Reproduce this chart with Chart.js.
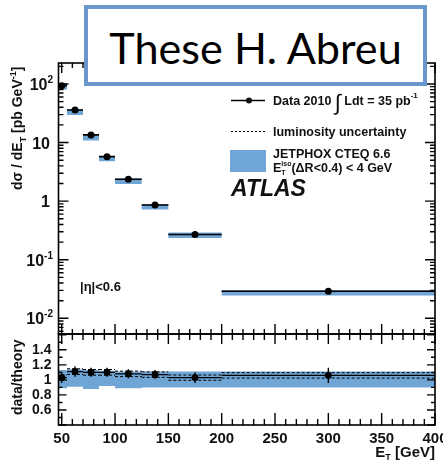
<!DOCTYPE html>
<html>
<head>
<meta charset="utf-8">
<script src="https://cdn.jsdelivr.net/npm/chart.js@4.4.1/dist/chart.umd.min.js"></script>
<style>
  html, body { margin: 0; padding: 0; background: #fff; }
  #page { position: relative; width: 443px; height: 466px; overflow: hidden; }
  #spectrum { position: absolute; left: 0; top: 0; }
  #ratio { position: absolute; left: 0; top: 330px; }
  #banner {
    position: absolute; left: 84px; top: 5px; width: 335px; height: 73px;
    border: 4px solid #6a97cb; background: #fff;
    font-family: Lato, "Open Sans", sans-serif; color: #000;
  }
  #banner span { position: absolute; left: 0; right: 0; top: 17px; text-align: center; white-space: nowrap; line-height: 1; }
</style>
</head>
<body>
<div id="page">
  <canvas id="spectrum" width="443" height="345"></canvas>
  <canvas id="ratio" width="443" height="136"></canvas>
  <div id="banner"><span id="bannerText">These H. Abreu</span></div>
</div>
<script>
// photon E_T bins
const binLow = [45, 55, 70, 85, 100, 125, 150, 200];
const binHigh = [55, 70, 85, 100, 125, 150, 200, 400];
const binCentre = [50, 62.5, 77.5, 92.5, 112.5, 137.5, 175, 300];

// measured cross section [pb/GeV]
const crossSection = [93, 36, 13.5, 5.75, 2.37, 0.86, 0.27, 0.029];
// data / JETPHOX and its uncertainty
const dataOverTheory = [1.03, 1.11, 1.10, 1.10, 1.08, 1.07, 1.03, 1.06];
const ratioError = [0.07, 0.07, 0.06, 0.06, 0.06, 0.06, 0.07, 0.10];
// JETPHOX band relative to central value
const theoryBandLow = [0.89, 0.91, 0.88, 0.92, 0.89, 0.90, 0.90, 0.90];
const theoryBandHigh = [1.13, 1.14, 1.13, 1.12, 1.11, 1.11, 1.11, 1.11];
const lumiUncertainty = 0.034;

// axis labels: log labels as mantissa + exponent
const logTickValues = [100, 10, 1, 0.1, 0.01];
const logTickBase = ['10', '10', '1', '10', '10'];
const logTickExp = ['2', '', '', '-1', '-2'];
const ratioTickValues = [0.6, 0.8, 1, 1.2, 1.4];
const energyTickValues = [50, 100, 150, 200, 250, 300, 350, 400];

const RATIO_TOP = 330;
const FONT = '"Liberation Sans", Arial, sans-serif';
const BAND = '#70a6d6';

// fit banner text
(function () {
  const c = document.createElement('canvas').getContext('2d');
  c.font = '100px Lato';
  const w = c.measureText('These H. Abreu').width;
  document.getElementById('bannerText').style.fontSize = (100 * 294 / w).toFixed(1) + 'px';
})();

// horizontal segments over each bin, broken between bins
function binSegments(vals) {
  const pts = [];
  vals.forEach((v, i) => {
    pts.push({x: binLow[i], y: v}, {x: binHigh[i], y: v}, {x: binHigh[i], y: null});
  });
  return pts;
}
// continuous step outline
function binSteps(vals) {
  const pts = [];
  vals.forEach((v, i) => { pts.push({x: binLow[i], y: v}, {x: binHigh[i], y: v}); });
  return pts;
}
// vertical error bars at bin centres
function errorBars(lo, hi) {
  const pts = [];
  binCentre.forEach((x, i) => { pts.push({x, y: lo[i]}, {x, y: hi[i]}, {x, y: null}); });
  return pts;
}

const theory = crossSection.map((v, i) => v / dataOverTheory[i]);
const theoryUp = theory.map((v, i) => v * theoryBandHigh[i]);
const theoryDown = theory.map((v, i) => v * theoryBandLow[i]);

function put(ctx, text, x, y) {
  ctx.fillText(text, x, y);
  return x + ctx.measureText(text).width;
}

function frameAndXTicks(ctx, chart, topLen, bottomLen) {
  const a = chart.chartArea, xs = chart.scales.x;
  ctx.strokeStyle = '#000';
  ctx.lineWidth = 1.6;
  ctx.strokeRect(a.left, a.top, a.right - a.left, a.bottom - a.top);
  ctx.lineWidth = 1.4;
  ctx.beginPath();
  for (let e = 50; e <= 400; e += 10) {
    const px = xs.getPixelForValue(e);
    const major = e % 50 === 0;
    if (topLen) { ctx.moveTo(px, a.top); ctx.lineTo(px, a.top + (major ? topLen[0] : topLen[1])); }
    if (bottomLen) { ctx.moveTo(px, a.bottom); ctx.lineTo(px, a.bottom - (major ? bottomLen[0] : bottomLen[1])); }
  }
  ctx.stroke();
}

const spectrumDecor = {
  id: 'spectrumDecor',
  afterDraw(chart) {
    const ctx = chart.ctx, a = chart.chartArea, ys = chart.scales.y;
    ctx.save();
    frameAndXTicks(ctx, chart, [10, 5], [10, 5]);
    // log ticks on both sides
    ctx.beginPath();
    for (let d = -3; d <= 2; d++) {
      for (let k = 1; k <= 9; k++) {
        const v = k * Math.pow(10, d);
        if (v < ys.min || v > ys.max) continue;
        const py = ys.getPixelForValue(v);
        const len = k === 1 ? 10 : 5;
        ctx.moveTo(a.left, py); ctx.lineTo(a.left + len, py);
        ctx.moveTo(a.right, py); ctx.lineTo(a.right - len, py);
      }
    }
    ctx.stroke();

    ctx.fillStyle = '#111';
    // decade labels with raised exponent
    logTickValues.forEach((v, i) => {
      const py = ys.getPixelForValue(v);
      ctx.font = 'bold 10px ' + FONT;
      const we = logTickExp[i] ? ctx.measureText(logTickExp[i]).width : 0;
      ctx.font = 'bold 16px ' + FONT;
      const wb = ctx.measureText(logTickBase[i]).width;
      const right = logTickExp[i] ? 53 : 50;
      const x = put(ctx, logTickBase[i], right - we - wb, py + 6);
      if (logTickExp[i]) {
        ctx.font = 'bold 10px ' + FONT;
        put(ctx, logTickExp[i], x, py - 1);
      }
    });

    // y title
    ctx.save();
    ctx.translate(22, 190);
    ctx.rotate(-Math.PI / 2);
    ctx.font = 'bold 14px ' + FONT;
    let x = put(ctx, 'dσ / dE', 0, 0);
    ctx.font = 'bold 9px ' + FONT;
    x = put(ctx, 'T', x, 4);
    ctx.font = 'bold 14px ' + FONT;
    x = put(ctx, ' [pb GeV', x, 0);
    ctx.font = 'bold 9px ' + FONT;
    x = put(ctx, '-1', x, -6);
    ctx.font = 'bold 14px ' + FONT;
    put(ctx, ']', x, 0);
    ctx.restore();

    // legend
    ctx.strokeStyle = '#000';
    ctx.lineWidth = 1.5;
    ctx.beginPath(); ctx.moveTo(231, 100.5); ctx.lineTo(265, 100.5); ctx.stroke();
    ctx.beginPath(); ctx.arc(249, 100.5, 3, 0, Math.PI * 2); ctx.fill();
    ctx.font = 'bold 12.5px ' + FONT;
    x = put(ctx, 'Data 2010 ', 273, 105);
    ctx.font = '22px ' + FONT;
    x = put(ctx, '∫', x, 110);
    ctx.font = 'bold 12.5px ' + FONT;
    x = put(ctx, ' Ldt = 35 pb', x, 105);
    ctx.font = 'bold 8px ' + FONT;
    put(ctx, '-1', x, 98);

    ctx.lineWidth = 1;
    ctx.setLineDash([2, 2]);
    ctx.beginPath(); ctx.moveTo(231, 131.5); ctx.lineTo(265, 131.5); ctx.stroke();
    ctx.setLineDash([]);
    ctx.font = 'bold 12.5px ' + FONT;
    put(ctx, 'luminosity uncertainty', 273, 136);

    ctx.fillStyle = BAND;
    ctx.fillRect(230, 150, 36, 22);
    ctx.fillStyle = '#111';
    put(ctx, 'JETPHOX CTEQ 6.6', 273, 158);
    x = put(ctx, 'E', 273, 172);
    ctx.font = 'bold 7px ' + FONT;
    put(ctx, 'T', x, 175);
    x = put(ctx, 'iso', x, 166);
    ctx.font = 'bold 12.5px ' + FONT;
    put(ctx, '(ΔR<0.4) < 4 GeV', x, 172);

    ctx.font = 'italic bold 23px ' + FONT;
    put(ctx, 'ATLAS', 231, 196);

    ctx.font = 'bold 13px ' + FONT;
    put(ctx, '|η|<0.6', 80, 291);
    ctx.restore();
  }
};

const ratioDecor = {
  id: 'ratioDecor',
  afterDraw(chart) {
    const ctx = chart.ctx, a = chart.chartArea, ys = chart.scales.y;
    ctx.save();
    frameAndXTicks(ctx, chart, [10, 6], [12, 6]);
    ctx.beginPath();
    for (let k = 4; k <= 16; k++) {
      const py = ys.getPixelForValue(k / 10);
      const len = k % 2 === 0 ? 8 : 4;
      ctx.moveTo(a.left, py); ctx.lineTo(a.left + len, py);
      ctx.moveTo(a.right, py); ctx.lineTo(a.right - len, py);
    }
    ctx.stroke();

    ctx.fillStyle = '#111';
    ctx.save();
    ctx.translate(22, 415 - RATIO_TOP);
    ctx.rotate(-Math.PI / 2);
    ctx.font = 'bold 14px ' + FONT;
    put(ctx, 'data/theory', 0, 0);
    ctx.restore();

    // x title, right aligned to the frame
    ctx.font = 'bold 15px ' + FONT;
    const wE = ctx.measureText('E').width;
    const wRest = ctx.measureText(' [GeV]').width;
    ctx.font = 'bold 9px ' + FONT;
    const wT = ctx.measureText('T').width;
    let x = a.right - wRest - wT - wE;
    const base = 457 - RATIO_TOP;
    ctx.font = 'bold 15px ' + FONT;
    x = put(ctx, 'E', x, base);
    ctx.font = 'bold 9px ' + FONT;
    x = put(ctx, 'T', x, base + 3);
    ctx.font = 'bold 15px ' + FONT;
    put(ctx, ' [GeV]', x, base);
    ctx.restore();
  }
};

const lineStyle = {showLine: true, pointRadius: 0, borderColor: '#000', spanGaps: false, fill: false};
const bandStyle = {showLine: true, pointRadius: 0, borderWidth: 0, borderColor: 'rgba(0,0,0,0)', backgroundColor: BAND};

const xScale = {
  type: 'linear', min: 47, max: 400,
  grid: {display: false, drawTicks: false},
  border: {display: false}
};

new Chart(document.getElementById('spectrum'), {
  type: 'scatter',
  data: {
    datasets: [
      {...bandStyle, data: binSteps(theoryUp), fill: '+1', order: 4},
      {...bandStyle, data: binSteps(theoryDown), fill: false, order: 5},
      {...lineStyle, data: binSegments(crossSection), borderWidth: 1.6, order: 2},
      {...lineStyle, data: errorBars(crossSection.map((v, i) => v * (1 - ratioError[i])),
                                     crossSection.map((v, i) => v * (1 + ratioError[i]))), borderWidth: 1.6, order: 1},
      {data: binCentre.map((x, i) => ({x, y: crossSection[i]})), pointRadius: 3.5,
       backgroundColor: '#000', borderWidth: 0, order: 0}
    ]
  },
  options: {
    responsive: false, animation: false, events: [],
    layout: {padding: {left: 0, right: 8, top: 63, bottom: 11}},
    plugins: {legend: {display: false}, tooltip: {enabled: false}},
    scales: {
      x: {...xScale, display: false},
      y: {
        type: 'logarithmic', min: 0.0054, max: 228,
        grid: {display: false, drawTicks: false},
        border: {display: false},
        afterBuildTicks(scale) { scale.ticks = logTickValues.map(v => ({value: v})); },
        afterFit(scale) { scale.width = 58.5; scale.paddingTop = 0; scale.paddingBottom = 0; },
        // decade labels are drawn by spectrumDecor
        ticks: {callback: () => ''}
      }
    }
  },
  plugins: [spectrumDecor]
});

new Chart(document.getElementById('ratio'), {
  type: 'scatter',
  data: {
    datasets: [
      {...bandStyle, data: binSteps(theoryBandHigh), fill: '+1', order: 5},
      {...bandStyle, data: binSteps(theoryBandLow), fill: false, order: 6},
      {...lineStyle, data: binSegments(dataOverTheory.map(v => v * (1 + lumiUncertainty))),
       borderWidth: 1, borderDash: [3, 2], order: 3},
      {...lineStyle, data: binSegments(dataOverTheory.map(v => v * (1 - lumiUncertainty))),
       borderWidth: 1, borderDash: [3, 2], order: 3},
      {...lineStyle, data: binSegments(dataOverTheory), borderWidth: 1.4, order: 2},
      {...lineStyle, data: errorBars(dataOverTheory.map((v, i) => v - ratioError[i]),
                                     dataOverTheory.map((v, i) => v + ratioError[i])), borderWidth: 1.4, order: 1},
      {data: binCentre.map((x, i) => ({x, y: dataOverTheory[i]})), pointRadius: 3.5,
       backgroundColor: '#000', borderWidth: 0, order: 0}
    ]
  },
  options: {
    responsive: false, animation: false, events: [],
    layout: {padding: {left: 0, right: 8, top: 334 - RATIO_TOP, bottom: 0}},
    plugins: {legend: {display: false}, tooltip: {enabled: false}},
    scales: {
      x: {
        ...xScale,
        afterBuildTicks(scale) { scale.ticks = energyTickValues.map(v => ({value: v})); },
        afterFit(scale) { scale.height = 136 - (425 - RATIO_TOP); scale.paddingLeft = 0; scale.paddingRight = 0; },
        ticks: {
          padding: 5, color: '#111', autoSkip: false, maxRotation: 0, minRotation: 0,
          font: {family: FONT, size: 15, weight: 'bold'},
          callback: v => String(v)
        }
      },
      y: {
        type: 'linear', min: 0.4, max: 1.61,
        grid: {display: false, drawTicks: false},
        border: {display: false},
        afterBuildTicks(scale) { scale.ticks = ratioTickValues.map(v => ({value: v})); },
        afterFit(scale) { scale.width = 58.5; scale.paddingTop = 0; scale.paddingBottom = 0; },
        ticks: {
          padding: 7, color: '#111',
          font: {family: FONT, size: 14, weight: 'bold'},
          callback: v => String(v)
        }
      }
    }
  },
  plugins: [ratioDecor]
});
</script>
</body>
</html>
